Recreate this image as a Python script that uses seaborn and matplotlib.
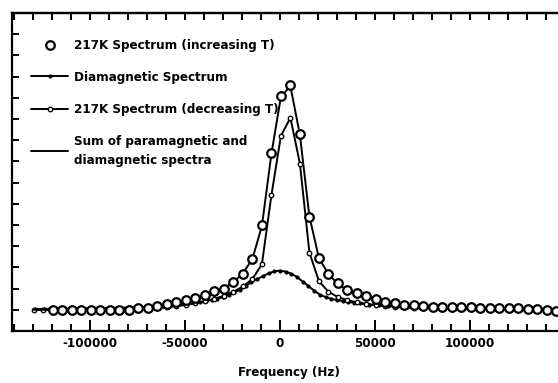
import matplotlib
matplotlib.use("Agg")
import matplotlib.pyplot as plt
from matplotlib.ticker import MultipleLocator
from matplotlib import font_manager
import pandas as pd
import seaborn as sns

# ---- data -------------------------------------------------------------
# 217 K spectrum, increasing temperature (open circles)
freq_inc = [-119500, -114500, -109500, -104500, -99500, -94500, -89500, -84500, -79500,
            -74500, -69500, -64500, -59500, -54500, -49500, -44500, -39500, -34500,
            -29500, -24500, -19500, -14500, -9500, -4500,
            500, 5500, 10500, 15500, 20500, 25500, 30500, 35500, 40500, 45500,
            50500, 55500, 60500, 65500, 70500, 75500, 80500, 85500, 90500, 95500,
            100500, 105500, 110500, 115500, 120500, 125500, 130500, 135500, 140500, 145500]
amp_inc = [1.00, 1.00, 1.00, 1.00, 1.00, 1.00, 1.00, 1.00, 1.00,
           1.08, 1.10, 1.18, 1.28, 1.35, 1.45, 1.55, 1.72, 1.88,
           1.98, 2.30, 2.70, 3.38, 4.98, 8.40,
           11.10, 11.60, 9.30, 5.37, 3.45, 2.70, 2.25, 1.92, 1.78, 1.66,
           1.52, 1.38, 1.30, 1.25, 1.22, 1.18, 1.15, 1.13, 1.12, 1.12,
           1.11, 1.10, 1.10, 1.09, 1.08, 1.07, 1.05, 1.03, 0.98, 0.95]

# sum of paramagnetic and diamagnetic spectra (plain line)
freq_sum = [-129500, -124500] + freq_inc
amp_sum = [1.00, 1.00,
           1.00, 1.00, 1.00, 1.00, 1.00, 1.00, 1.00, 1.01, 1.03,
           1.06, 1.09, 1.14, 1.21, 1.29, 1.38, 1.50, 1.64, 1.82,
           2.02, 2.30, 2.72, 3.40, 4.95, 8.35,
           11.05, 11.55, 9.25, 5.40, 3.45, 2.68, 2.22, 1.92, 1.76, 1.62,
           1.50, 1.40, 1.32, 1.26, 1.22, 1.18, 1.15, 1.13, 1.12, 1.11,
           1.10, 1.10, 1.09, 1.08, 1.07, 1.06, 1.05, 1.03, 1.00, 0.97]

# 217 K spectrum, decreasing temperature (line with small circles)
freq_dec = freq_sum
amp_dec = [1.00, 1.00,
           1.00, 1.00, 1.00, 1.00, 1.00, 1.00, 1.00, 1.00, 1.00,
           1.02, 1.04, 1.07, 1.12, 1.17, 1.23, 1.30, 1.40, 1.52,
           1.66, 1.85, 2.10, 2.45, 3.15, 6.40,
           9.20, 10.06, 7.90, 3.70, 2.35, 1.85, 1.60, 1.45, 1.35, 1.28,
           1.22, 1.18, 1.15, 1.12, 1.10, 1.08, 1.07, 1.06, 1.05, 1.05,
           1.04, 1.04, 1.03, 1.03, 1.02, 1.02, 1.01, 1.00, 0.98, 0.96]

# diamagnetic spectrum (line with filled dots)
freq_dia = [-129000, -124000, -119000, -114000, -109000, -104000, -99000, -94000,
            -89000, -84000, -79000, -74000, -69000, -64000, -59000, -54000, -49000,
            -42000, -39000, -36000, -33000, -30000, -27000, -24000, -21000, -18000,
            -15000, -12000, -9000, -6000, -3000, 0, 3000, 6000, 9000, 12000, 15000,
            18000, 21000, 24000, 27000, 30000, 33000, 36000, 39000, 42000,
            47000, 52000, 57000, 62000, 67000, 72000, 77000, 82000, 87000, 92000,
            97000, 102000, 107000, 112000, 117000, 122000, 127000, 132000, 137000,
            142000, 147000]
amp_dia = [1.03, 1.05, 1.05, 1.06, 1.06, 1.07, 1.07, 1.08,
           1.09, 1.10, 1.11, 1.12, 1.14, 1.16, 1.19, 1.22, 1.27,
           1.36, 1.41, 1.46, 1.52, 1.60, 1.70, 1.82, 1.95, 2.12,
           2.30, 2.45, 2.58, 2.72, 2.81, 2.85, 2.80, 2.70, 2.55, 2.33, 2.12,
           1.90, 1.72, 1.60, 1.52, 1.46, 1.41, 1.37, 1.33, 1.30,
           1.25, 1.21, 1.18, 1.16, 1.14, 1.13, 1.12, 1.10, 1.09, 1.09,
           1.08, 1.07, 1.07, 1.06, 1.06, 1.05, 1.05, 1.04, 1.04,
           1.04, 1.03]

labels = ["217K Spectrum (increasing T)",
          "Diamagnetic Spectrum",
          "217K Spectrum (decreasing T)",
          "Sum of paramagnetic and\ndiamagnetic spectra"]

xticks_major = [-100000, -50000, 0, 50000, 100000]

# ---- figure -----------------------------------------------------------
sns.set_theme(style="ticks")
FONT = ["DejaVu Sans", "Liberation Sans"]
plt.rcParams["font.family"] = FONT
plt.rcParams["font.weight"] = "bold"
plt.rcParams["font.stretch"] = "condensed"
ink = "black"
plt.rcParams["text.color"] = ink
plt.rcParams["xtick.color"] = ink
plt.rcParams["ytick.color"] = ink
plt.rcParams["axes.labelcolor"] = ink

lab_font = font_manager.FontProperties(family=FONT, weight="bold",
                                       stretch="condensed", size=9.5)
tick_font = font_manager.FontProperties(family=FONT, weight="bold",
                                        stretch="condensed", size=9.5)

fig = plt.figure(figsize=(5.58, 3.83), dpi=100)
ax = fig.add_axes([12 / 558, 52 / 383, 553 / 558, 318 / 383])

df_inc = pd.DataFrame({"f": freq_inc, "a": amp_inc})
df_sum = pd.DataFrame({"f": freq_sum, "a": amp_sum})
df_dec = pd.DataFrame({"f": freq_dec, "a": amp_dec})
df_dia = pd.DataFrame({"f": freq_dia, "a": amp_dia})

sns.lineplot(data=df_dia, x="f", y="a", ax=ax, color=ink, lw=1.4,
             marker="o", markersize=3, markeredgewidth=0, markerfacecolor=ink,
             label=labels[1], zorder=3)
sns.lineplot(data=df_dec, x="f", y="a", ax=ax, color=ink, lw=1.4,
             marker="o", markersize=3.2, markeredgewidth=1.0, markerfacecolor="white",
             markeredgecolor=ink, label=labels[2], zorder=3)
sns.lineplot(data=df_sum, x="f", y="a", ax=ax, color=ink, lw=1.4,
             label=labels[3], zorder=4)
sns.scatterplot(data=df_inc, x="f", y="a", ax=ax, marker="o", s=38,
                facecolor="white", edgecolor=ink, linewidth=1.6,
                label=labels[0], zorder=5)

ax.set_xlim(-141000, 150000)
ax.set_ylim(0, 15)

# axes frame and ticks
for side in ["left", "bottom", "top", "right"]:
    ax.spines[side].set_linewidth(1.6)
    ax.spines[side].set_color(ink)

ax.xaxis.set_major_locator(MultipleLocator(50000))
ax.xaxis.set_minor_locator(MultipleLocator(10000))
ax.yaxis.set_major_locator(MultipleLocator(1))
ax.tick_params(axis="x", which="major", direction="in", length=8, width=1.4,
               bottom=True, top=False, pad=4)
ax.tick_params(axis="x", which="minor", direction="in", length=5, width=1.4,
               bottom=True, top=False)
ax.tick_params(axis="y", which="major", direction="in", length=5, width=1.4,
               left=True, right=False, labelleft=False)
ax.set_xticks(xticks_major)
ax.set_xticklabels([str(v) for v in xticks_major])
for t in ax.get_xticklabels():
    t.set_fontproperties(tick_font)

top = ax.secondary_xaxis("top")
top.xaxis.set_major_locator(MultipleLocator(10000))
top.tick_params(direction="in", length=5, width=1.4, labeltop=False)
top.spines["top"].set_linewidth(1.6)

ax.set_xlabel("Frequency (Hz)", fontproperties=tick_font, labelpad=12)
ax.set_ylabel("")

# legend in the original entry order
handles, labs = ax.get_legend_handles_labels()
order = [labs.index(l) for l in labels]
leg = ax.legend([handles[i] for i in order], [labs[i] for i in order],
                loc="upper left", bbox_to_anchor=(0.025, 0.935), frameon=False,
                prop=lab_font, handlelength=2.8, handletextpad=0.45,
                labelspacing=1.45, numpoints=1, scatterpoints=1, borderaxespad=0)
leg.get_texts()[3].set_linespacing(1.55)

fig.savefig("out.png", dpi=100)
